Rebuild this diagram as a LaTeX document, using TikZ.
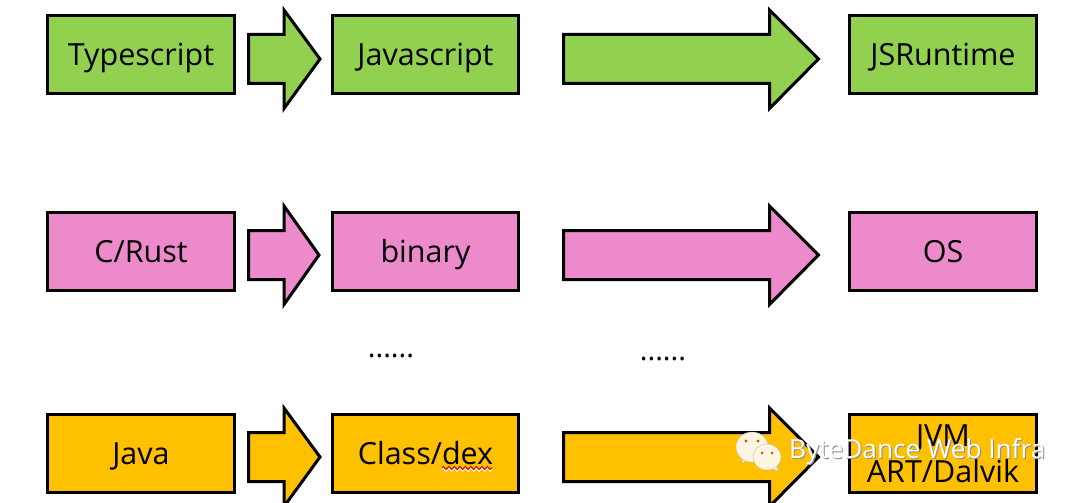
\documentclass[tikz,border=0pt]{standalone}
\usepackage{fontspec}
\setmainfont{Open Sans}
\usetikzlibrary{decorations.pathmorphing}
\definecolor{grn}{HTML}{92D050}
\definecolor{pnk}{HTML}{EC8ACB}
\definecolor{amb}{HTML}{FFC000}
\definecolor{cream}{HTML}{FFF5E0}
\tikzset{
  x=1pt,y=-1pt,
  basebox/.style={draw=black,line width=3pt,minimum width=186.5pt,minimum height=78pt,inner sep=0pt,align=center,font=\fontsize{30.5}{36}\selectfont,text=black},
  box/.style={basebox,text height=28pt,text depth=6pt},
  arrowshape/.style={draw=black,line width=3pt,line join=miter,miter limit=6},
  dotrow/.style={font=\fontsize{29}{32}\selectfont,inner sep=0pt,text=black},
  wmark/.style={font=\fontsize{26.2}{30}\selectfont,inner sep=0pt},
}
\newcommand{\blockarrow}[5]{% left, headx, tip, midy, colour
  \path[arrowshape,fill=#5] (#1,#4-24.5) -- (#2,#4-24.5) -- (#2,#4-49) -- (#3,#4) -- (#2,#4+49.5) -- (#2,#4+24.5) -- (#1,#4+24.5) -- cycle;
}
\begin{document}
\begin{tikzpicture}
\useasboundingbox (0,0) rectangle (1080,503);
\clip (0,0) rectangle (1080,503);
\fill[white] (0,0) rectangle (1080,503);
% row 1
\node[box,fill=grn] (ts) at (141,55) {Typescript};
\node[box,fill=grn] (js) at (425.5,55) {Javascript};
\node[box,fill=grn] (jsr) at (943,55) {JSRuntime};
\blockarrow{248.5}{284}{320}{59}{grn}
\blockarrow{563.5}{769.5}{818.5}{59}{grn}
% row 2
\node[box,fill=pnk] (c) at (141,251) {C/Rust};
\node[box,fill=pnk] (bin) at (425.5,251) {binary};
\node[box,fill=pnk] (os) at (943,251) {OS};
\blockarrow{248.5}{284}{319}{255}{pnk}
\blockarrow{563.5}{769.5}{818.5}{255}{pnk}
% dots
\node[dotrow] (d1) at (391,356) {......};
\node[dotrow] (d2) at (663,359) {......};
% row 3
\node[box,fill=amb] (java) at (141,453.5) {Java};
\node[box,fill=amb] (cls) at (425.5,453.5) {Class/dex};
\node[basebox,fill=amb] (jvm) at (943,453.5) {JVM\\ART/Dalvik};
\blockarrow{248.5}{284}{320}{457}{amb}
\blockarrow{563.5}{769.5}{818.5}{457}{amb}
% spell-check squiggle
\draw[white,line width=2pt,decorate,decoration={zigzag,segment length=5.5pt,amplitude=1.5pt}] (442,469) -- (492,469);
\draw[red!85!black,line width=1.1pt,decorate,decoration={zigzag,segment length=5.5pt,amplitude=1.5pt}] (442,468) -- (492,468);
% watermark
\fill[cream,draw=black!25,line width=.4pt] (742,463) -- (743,456) -- (750,459) -- cycle;
\fill[cream,draw=black!25,line width=.4pt] (752,447) ellipse [x radius=16,y radius=15];
\fill[black!40!amb] (746,441) circle (1.7) (758,441) circle (1.7);
\fill[cream,draw=black!25,line width=.4pt] (778,471) -- (776,464) -- (770,468) -- cycle;
\fill[cream,draw=black!25,line width=.4pt] (767,457) ellipse [x radius=14,y radius=13];
\fill[black!40!amb] (762,453) circle (1.5) (772,453) circle (1.5);
\node[wmark,text=black!45,anchor=west] (wm0) at (790,453) {ByteDance Web Infra};
\node[wmark,text=white,anchor=west] (wm) at (789,452) {ByteDance Web Infra};
\end{tikzpicture}
\end{document}
